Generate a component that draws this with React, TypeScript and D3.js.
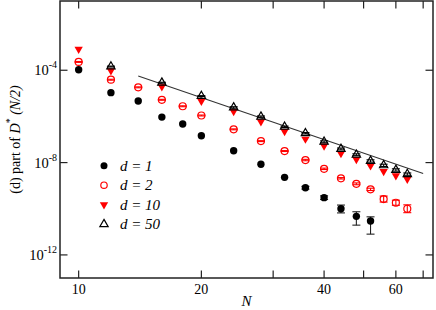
import * as d3 from "d3";

// system sizes
const nAll = [10, 12, 14, 16, 18, 20, 24, 28, 32, 36, 40, 44, 48, 52, 56, 60, 64];
const nD10 = [10, 12, 16, 20, 24, 28, 32, 36, 40, 44, 48, 52, 56, 60, 64];
const nD50 = [12, 16, 20, 24, 28, 32, 36, 40, 44, 48, 52, 56, 60, 64];
const nD1 = nAll.slice(0, 14);

// values as log10 exponents
const logD1 = [-3.98, -4.97, -5.33, -6.03, -6.33, -6.84, -7.49, -8.07, -8.64, -9.09, -9.52, -10.0, -10.33, -10.53];
const errLoD1 = [0, 0, 0, 0, 0, 0, 0, 0, 0, 0.06, 0.08, 0.18, 0.38, 0.57];
const errHiD1 = [0, 0, 0, 0, 0, 0, 0, 0, 0, 0.06, 0.08, 0.16, 0.2, 0.18];

const logD2 = [-3.64, -4.41, -4.74, -5.28, -5.56, -5.96, -6.56, -7.07, -7.5, -7.89, -8.27, -8.68, -8.92, -9.16, -9.58, -9.74, -10.0];
const errD2 = [0.02, 0.02, 0.02, 0.02, 0.02, 0.02, 0.02, 0.02, 0.02, 0.03, 0.03, 0.03, 0.04, 0.05, 0.13, 0.11, 0.17];

const logD10 = [-3.09, -4.02, -4.71, -5.34, -5.78, -6.23, -6.65, -6.98, -7.28, -7.6, -7.86, -8.14, -8.38, -8.57, -8.72];

const logD50 = [-3.84, -4.54, -5.12, -5.61, -6.01, -6.45, -6.73, -7.1, -7.41, -7.66, -7.93, -8.12, -8.32, -8.5];
const errD50 = [0.02, 0.02, 0.02, 0.03, 0.03, 0.03, 0.03, 0.04, 0.04, 0.04, 0.05, 0.05, 0.05, 0.05];

// power-law guide line
const fitN = [14, 70];
const fitLog = [-4.25, -8.47];

const xTicks = [10, 20, 30, 40, 50, 60, 70];
const xTickLabels = [10, 20, 40, 60];
const yTickExp = [-4, -8, -12];

const legendLabels = ["d = 1", "d = 2", "d = 10", "d = 50"];

const W = 436;
const H = 310;
const left = 60, right = 433, top = 1, bottom = 278;
const RED = "#ff0000";
const serif = "'Liberation Serif', 'DejaVu Serif', serif";

export default function App() {
  const x = d3.scaleLog().domain([9, 74]).range([left, right]);
  const y = d3.scaleLog().domain([1e-13, 1e-1]).range([bottom, top]);
  const p = (e: number) => Math.pow(10, e);

  const triUp = d3.symbol(d3.symbolTriangle, 30)() as string;
  const tick = 7.5;

  const errBar = (n: number, e: number, lo: number, hi: number, color: string, key: string) => {
    if (lo === 0 && hi === 0) return null;
    const cx = x(n);
    const y0 = y(p(e - lo));
    const y1 = y(p(e + hi));
    return (
      <g key={key} stroke={color} strokeWidth={1.1}>
        <line x1={cx} x2={cx} y1={y0} y2={y1} />
        <line x1={cx - 4} x2={cx + 4} y1={y0} y2={y0} />
        <line x1={cx - 4} x2={cx + 4} y1={y1} y2={y1} />
      </g>
    );
  };

  const legendMarker = (i: number, cx: number, cy: number) => {
    if (i === 0) return <circle cx={cx} cy={cy} r={3.5} fill="#000" />;
    if (i === 1) return <circle cx={cx} cy={cy} r={3.2} fill="none" stroke={RED} strokeWidth={1.2} />;
    if (i === 2) return <path d={triUp} transform={`translate(${cx},${cy}) rotate(180)`} fill={RED} />;
    return <path d={triUp} transform={`translate(${cx},${cy})`} fill="none" stroke="#000" strokeWidth={1.2} />;
  };

  return (
    <svg width={W} height={H} style={{ position: "absolute", left: 0, top: 0, fontFamily: serif }}>
      <rect x={0} y={0} width={W} height={H} fill="#fff" />

      {/* guide line */}
      <line
        x1={x(fitN[0])} y1={y(p(fitLog[0]))}
        x2={x(fitN[1])} y2={y(p(fitLog[1]))}
        stroke="#333" strokeWidth={1.1}
      />

      {/* d = 1 */}
      {nD1.map((n, i) => errBar(n, logD1[i], errLoD1[i], errHiD1[i], "#222", `e1-${i}`))}
      {nD1.map((n, i) => (
        <circle key={`d1-${i}`} cx={x(n)} cy={y(p(logD1[i]))} r={3.7} fill="#000" />
      ))}

      {/* d = 2 */}
      {nAll.map((n, i) => errBar(n, logD2[i], errD2[i], errD2[i], RED, `e2-${i}`))}
      {nAll.map((n, i) => (
        <circle key={`d2-${i}`} cx={x(n)} cy={y(p(logD2[i]))} r={3.5} fill="none" stroke={RED} strokeWidth={1.2} />
      ))}

      {/* d = 10 */}
      {nD10.map((n, i) => (
        <path key={`d10-${i}`} d={triUp} transform={`translate(${x(n)},${y(p(logD10[i]))}) rotate(180)`} fill={RED} />
      ))}

      {/* d = 50 */}
      {nD50.map((n, i) => errBar(n, logD50[i], errD50[i], errD50[i], "#000", `e50-${i}`))}
      {nD50.map((n, i) => (
        <path key={`d50-${i}`} d={triUp} transform={`translate(${x(n)},${y(p(logD50[i]))})`} fill="none" stroke="#000" strokeWidth={1.2} />
      ))}

      {/* frame */}
      <rect x={left} y={top} width={right - left} height={bottom - top} fill="none" stroke="#222" strokeWidth={1.5} />

      {/* x ticks */}
      {xTicks.map((t) => (
        <g key={`xt-${t}`} stroke="#222" strokeWidth={1.2}>
          <line x1={x(t)} x2={x(t)} y1={bottom} y2={bottom - tick} />
          <line x1={x(t)} x2={x(t)} y1={top} y2={top + tick} />
        </g>
      ))}
      {xTickLabels.map((t) => (
        <text key={`xl-${t}`} x={x(t)} y={bottom + 15.5} textAnchor="middle" fontSize={14}>{t}</text>
      ))}
      <text x={(left + right) / 2} y={306} textAnchor="middle" fontSize={15} fontStyle="italic">N</text>

      {/* y ticks */}
      {yTickExp.map((e) => (
        <g key={`yt-${e}`} stroke="#222" strokeWidth={1.2}>
          <line x1={left} x2={left + tick} y1={y(p(e))} y2={y(p(e))} />
          <line x1={right} x2={right - tick} y1={y(p(e))} y2={y(p(e))} />
        </g>
      ))}
      {yTickExp.map((e) => (
        <text key={`yl-${e}`} x={57} y={y(p(e)) + 5} textAnchor="end" fontSize={14.5}>
          10<tspan fontSize={10} dy={-7}>{e}</tspan>
        </text>
      ))}

      {/* y label */}
      <text transform={`translate(20,${(top + bottom) / 2}) rotate(-90)`} textAnchor="middle" fontSize={14}>
        (d) part of <tspan fontStyle="italic">D</tspan>
        <tspan fontSize={10} dy={-7}>*</tspan>
        <tspan dy={7} fontStyle="italic"> (N/2)</tspan>
      </text>

      {/* legend */}
      {legendLabels.map((lab, i) => {
        const cy = 165.7 + i * 19.5;
        return (
          <g key={`lg-${i}`}>
            {legendMarker(i, 104, cy)}
            <text x={120} y={cy + 5} fontSize={15} fontStyle="italic">{lab}</text>
          </g>
        );
      })}
    </svg>
  );
}
